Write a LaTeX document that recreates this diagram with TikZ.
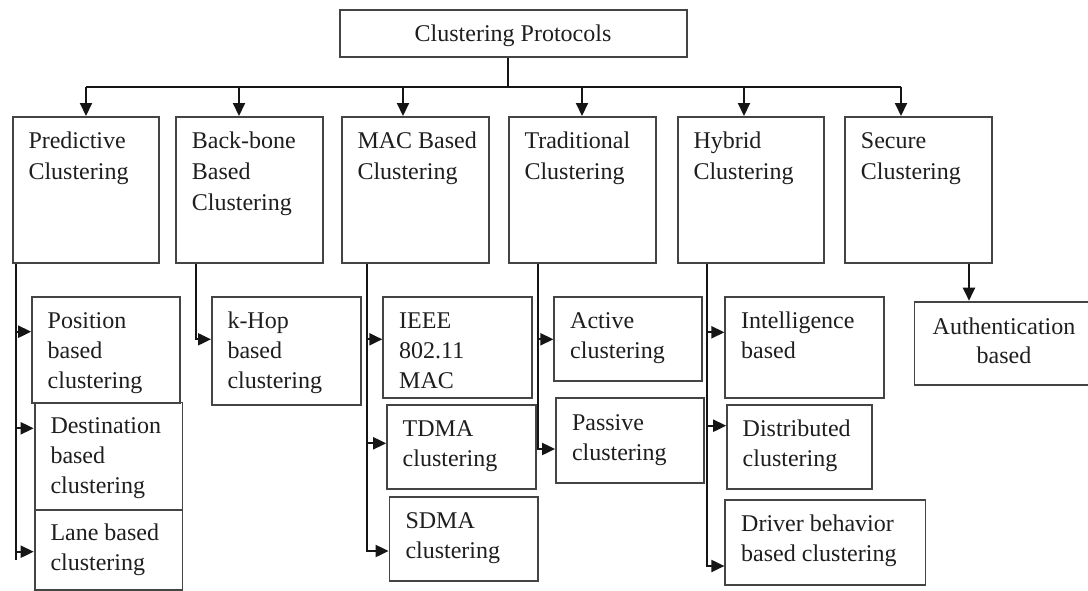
\documentclass[tikz,border=0pt]{standalone}
\usepackage{fontspec}
\setmainfont{Liberation Serif}
\usetikzlibrary{arrows.meta}
\definecolor{boxc}{HTML}{444444}
\definecolor{linec}{HTML}{151515}
\definecolor{txtc}{HTML}{1E1E1E}
\newcommand{\tx}[2]{\parbox[t]{8cm}{\fontsize{24}{#1}\selectfont\raggedright #2}}
\newcommand{\ctx}[2]{\parbox[t]{8cm}{\fontsize{24}{#1}\selectfont\centering #2}}
\begin{document}
\begin{tikzpicture}[x=1pt,y=-1pt,
  box/.style={draw=boxc, line width=1.8pt, inner sep=0pt, anchor=north west, rectangle},
  lbl/.style={inner sep=0pt, text=txtc, anchor=base west},
  conn/.style={draw=linec, line width=2pt},
  arr/.style={conn, -{Triangle[length=13pt,width=12pt]}}]
\useasboundingbox[fill=white] (0,0) rectangle (1088,590);

% top
\node[box, minimum width=347pt, minimum height=47pt] (top) at (339.3,9) {};
\node[lbl, anchor=base] (topt) at (513,41.5) {\fontsize{24}{31}\selectfont Clustering Protocols};

% level 1
\node[box, minimum width=146.3pt, minimum height=146pt] (pred) at (11.7,116) {};
\node[box, minimum width=146.7pt, minimum height=146pt] (bb) at (175,116) {};
\node[box, minimum width=147.3pt, minimum height=146pt] (mac) at (340.7,116) {};
\node[box, minimum width=147.3pt, minimum height=146pt] (trad) at (507.7,116) {};
\node[box, minimum width=146.3pt, minimum height=146pt] (hyb) at (676.7,116) {};
\node[box, minimum width=146.7pt, minimum height=146pt] (sec) at (844,116) {};

\node[lbl] (predt) at (28.3,148.3) {\tx{31}{Predictive\\Clustering}};
\node[lbl] (bbt) at (191.7,148.3) {\tx{31}{Back-bone\\Based\\Clustering}};
\node[lbl] (mact) at (357.3,148.3) {\tx{31}{MAC Based\\Clustering}};
\node[lbl] (tradt) at (524.3,148.3) {\tx{31}{Traditional\\Clustering}};
\node[lbl] (hybt) at (693.3,148.3) {\tx{31}{Hybrid\\Clustering}};
\node[lbl] (sect) at (860.7,148.3) {\tx{31}{Secure\\Clustering}};

% level 2
\node[box, minimum width=148.2pt, minimum height=105.7pt] (pos) at (31.2,296) {};
\node[box, minimum width=147.8pt, minimum height=107.8pt] (dest) at (33.7,401.5) {};
\node[box, minimum width=147.8pt, minimum height=80pt] (lane) at (33.7,509.3) {};
\node[box, minimum width=148.8pt, minimum height=108.3pt] (khop) at (211,296) {};
\node[box, minimum width=148.7pt, minimum height=100.7pt] (ieee) at (382.3,296) {};
\node[box, minimum width=148.8pt, minimum height=84pt] (tdma) at (386.2,404.3) {};
\node[box, minimum width=148.4pt, minimum height=84pt] (sdma) at (388.6,496) {};
\node[box, minimum width=147.8pt, minimum height=84pt] (act) at (553.4,296) {};
\node[box, minimum width=147.8pt, minimum height=84.7pt] (pas) at (555.1,397.3) {};
\node[box, minimum width=158.3pt, minimum height=100.7pt] (intel) at (724.4,296) {};
\node[box, minimum width=145pt, minimum height=84pt] (dist) at (726.2,404.3) {};
\node[box, minimum width=200.2pt, minimum height=84.7pt] (drv) at (724.4,499.3) {};
\node[box, minimum width=190pt, minimum height=83.5pt] (auth) at (913.5,300.7) {};

\node[lbl] (post) at (47.5,328.3) {\tx{30}{Position\\based\\clustering}};
\node[lbl] (destt) at (50.3,433.3) {\tx{30}{Destination\\based\\clustering}};
\node[lbl] (lanet) at (50.3,540) {\tx{30}{Lane based\\clustering}};
\node[lbl] (khopt) at (227.3,328.3) {\tx{30}{k-Hop\\based\\clustering}};
\node[lbl] (ieeet) at (399,328.3) {\tx{30}{IEEE\\802.11\\MAC}};
\node[lbl] (tdmat) at (402.5,436) {\tx{30}{TDMA\\clustering}};
\node[lbl] (sdmat) at (405.3,528.3) {\tx{30}{SDMA\\clustering}};
\node[lbl] (actt) at (570,328.3) {\tx{30}{Active\\clustering}};
\node[lbl] (past) at (571.8,430) {\tx{30}{Passive\\clustering}};
\node[lbl] (intelt) at (741,328.3) {\tx{30}{Intelligence\\based}};
\node[lbl] (distt) at (742.5,436) {\tx{30}{Distributed\\clustering}};
\node[lbl] (drvt) at (741,531.7) {\tx{30}{Driver behavior\\based clustering}};
\node[lbl, anchor=base] (autht) at (1004,334) {\ctx{29}{Authentication\\based}};

% top connectors
\coordinate (bus) at (508,86.5);
\coordinate (a1) at (86,86.5);
\coordinate (a2) at (239,86.5);
\coordinate (a3) at (403,86.5);
\coordinate (a4) at (582,86.5);
\coordinate (a5) at (744,86.5);
\coordinate (a6) at (901,86.5);
\draw[conn] (top.south -| bus) -- (bus);
\draw[conn] (a1) -- (a6);
\draw[arr] (a1) -- (a1 |- pred.north);
\draw[arr] (a2) -- (a2 |- bb.north);
\draw[arr] (a3) -- (a3 |- mac.north);
\draw[arr] (a4) -- (a4 |- trad.north);
\draw[arr] (a5) -- (a5 |- hyb.north);
\draw[arr] (a6) -- (a6 |- sec.north);

% predictive
\coordinate (ps) at (16,560);
\draw[conn] (ps |- pred.south) -- (ps);
\draw[arr] (ps |- 0,331.7) -- (pos.west |- 0,331.7);
\draw[arr] (ps |- 0,428.3) -- (dest.west |- 0,428.3);
\draw[arr] (ps |- 0,551.7) -- (lane.west |- 0,551.7);

% back-bone
\coordinate (bs) at (196,339.3);
\draw[arr] (bs |- bb.south) -- (bs) -- (khop.west |- bs);

% MAC
\coordinate (ms) at (367,551);
\draw[arr] (ms |- mac.south) -- (ms) -- (sdma.west |- ms);
\draw[arr] (ms |- 0,339.3) -- (ieee.west |- 0,339.3);
\draw[arr] (ms |- 0,443.3) -- (tdma.west |- 0,443.3);

% traditional
\coordinate (ts) at (537.5,449);
\draw[arr] (ts |- trad.south) -- (ts) -- (pas.west |- ts);
\draw[arr] (ts |- 0,339.3) -- (act.west |- 0,339.3);

% hybrid
\coordinate (hs) at (707,566);
\draw[arr] (hs |- hyb.south) -- (hs) -- (drv.west |- hs);
\draw[arr] (hs |- 0,332.3) -- (intel.west |- 0,332.3);
\draw[arr] (hs |- 0,425.7) -- (dist.west |- 0,425.7);

% secure
\coordinate (ss) at (969,262);
\draw[arr] (ss |- sec.south) -- (ss |- auth.north);
\end{tikzpicture}
\end{document}
